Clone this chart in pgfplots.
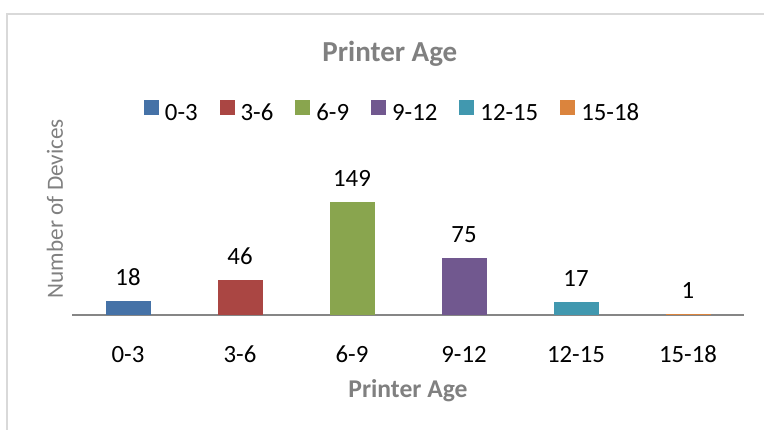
\documentclass[border=0pt]{standalone}
\usepackage{pgfplots}
\pgfplotsset{compat=1.18}
\usepackage{fontspec}
\setmainfont{Carlito}

\definecolor{cA}{HTML}{4572A7}
\definecolor{cB}{HTML}{AA4643}
\definecolor{cC}{HTML}{89A54E}
\definecolor{cD}{HTML}{71588F}
\definecolor{cE}{HTML}{4198AF}
\definecolor{cF}{HTML}{DB843D}
\definecolor{txtgray}{HTML}{808080}
\definecolor{axgray}{HTML}{868686}
\definecolor{framegray}{HTML}{D9D9D9}

% 1 px of the reference = 0.5pt
\begin{document}
\begin{tikzpicture}
\useasboundingbox (0,0) rectangle (382pt,214.5pt);
\draw[framegray, line width=1pt] (3.5pt,-2pt) -- (3.5pt,207.5pt) -- (384pt,207.5pt);

\begin{axis}[
    at={(36pt,57pt)}, anchor=south west,
    scale only axis,
    width=336pt, height=106.4pt,
    xmin=-0.5, xmax=5.5,
    ymin=0, ymax=280,
    axis x line=bottom, axis y line=left,
    x axis line style={draw=axgray, line width=0.75pt, -},
    y axis line style={draw=none},
    xtick={0,1,2,3,4,5},
    xticklabels={0-3,3-6,6-9,9-12,12-15,15-18},
    xtick style={draw=none},
    ytick=\empty,
    xticklabel style={anchor=base, yshift=-21.5pt, inner sep=0pt,
        font=\fontsize{12.4}{14}\selectfont},
    /pgf/number format/assume math mode=true,
    nodes near coords,
    every node near coord/.append style={inner sep=0pt, yshift=7.5pt,
        font=\fontsize{12.4}{14}\selectfont, black},
    title={Printer Age},
    title style={at={(axis description cs:0.473,1.133)}, anchor=base,
        font=\bfseries\fontsize{14.5}{17}\selectfont, txtgray},
    xlabel={Printer Age},
    xlabel style={at={(axis description cs:0.5,-0.39)}, anchor=base,
        font=\bfseries\fontsize{12.8}{15}\selectfont, txtgray},
    ylabel={Number of Devices},
    ylabel style={at={(axis description cs:-0.0253,0.5)}, anchor=center,
        font=\fontsize{11.6}{14}\selectfont, txtgray},
    legend columns=-1,
    legend style={at={(axis description cs:0.48,0.954)}, anchor=center,
        draw=none, fill=none, font=\fontsize{12.4}{14}\selectfont,
        nodes={inner xsep=3pt, inner ysep=0pt},
        /tikz/every even column/.append style={column sep=8pt}},
    legend image code/.code={\fill[#1] (0pt,-0.5pt) rectangle (7.5pt,7pt);},
]
\addplot[ybar, bar width=22.5pt, bar shift=0pt, fill=cA, draw=none] coordinates {(0,18)};
\addlegendentry{0-3}
\addplot[ybar, bar width=22.5pt, bar shift=0pt, fill=cB, draw=none] coordinates {(1,46)};
\addlegendentry{3-6}
\addplot[ybar, bar width=22.5pt, bar shift=0pt, fill=cC, draw=none] coordinates {(2,149)};
\addlegendentry{6-9}
\addplot[ybar, bar width=22.5pt, bar shift=0pt, fill=cD, draw=none] coordinates {(3,75)};
\addlegendentry{9-12}
\addplot[ybar, bar width=22.5pt, bar shift=0pt, fill=cE, draw=none] coordinates {(4,17)};
\addlegendentry{12-15}
\addplot[ybar, bar width=22.5pt, bar shift=0pt, fill=cF, draw=none] coordinates {(5,1)};
\addlegendentry{15-18}
\end{axis}
\end{tikzpicture}
\end{document}
